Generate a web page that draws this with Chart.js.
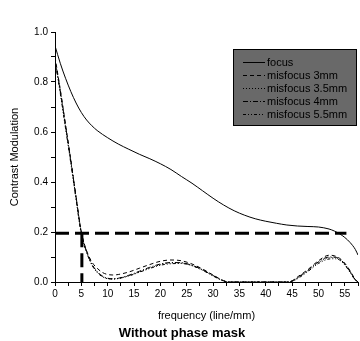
<!DOCTYPE html>
<html>
<head>
<meta charset="UTF-8">
<title>Without phase mask</title>
<script src="https://cdn.jsdelivr.net/npm/chart.js@4.4.1/dist/chart.umd.min.js"></script>
<style>
body { margin: 0; background: #fff; }
</style>
</head>
<body>
<canvas id="mtf" width="360" height="341"></canvas>
<script>
// focus curve
var focusFreq = [0, 1, 2, 3, 4, 5, 6, 7, 8, 10, 12, 14, 16, 18, 20, 22, 24, 26, 28, 30, 32, 34, 36, 38, 40, 42, 44, 46, 48, 50, 52, 53, 54, 55, 56, 57, 57.5];
var focus = [0.945, 0.875, 0.815, 0.762, 0.716, 0.678, 0.648, 0.625, 0.606, 0.577, 0.552, 0.531, 0.511, 0.493, 0.473, 0.45, 0.422, 0.395, 0.365, 0.335, 0.308, 0.285, 0.267, 0.253, 0.243, 0.235, 0.228, 0.224, 0.222, 0.22, 0.212, 0.204, 0.193, 0.178, 0.158, 0.13, 0.108];

// misfocus curves share one frequency list
var misFreq = [0, 1, 2, 3, 4, 5, 6, 7, 8, 9, 10, 11, 12, 14, 16, 18, 20, 22, 24, 26, 28, 30, 32, 33, 36, 40, 44, 45, 46, 48, 50, 52, 53, 54, 55, 56, 57, 57.5];
var mis3 = [0.90, 0.77, 0.63, 0.49, 0.34, 0.20, 0.125, 0.08, 0.055, 0.038, 0.03, 0.028, 0.03, 0.04, 0.055, 0.07, 0.083, 0.088, 0.085, 0.072, 0.052, 0.028, 0.005, 0, 0, 0, 0, 0.005, 0.02, 0.05, 0.085, 0.107, 0.105, 0.095, 0.075, 0.045, 0.01, 0];
var mis35 = [0.89, 0.76, 0.62, 0.48, 0.335, 0.195, 0.12, 0.07, 0.04, 0.022, 0.014, 0.012, 0.014, 0.025, 0.04, 0.056, 0.069, 0.076, 0.076, 0.066, 0.048, 0.025, 0.004, 0, 0, 0, 0, 0.003, 0.015, 0.045, 0.078, 0.097, 0.098, 0.09, 0.07, 0.04, 0.008, 0];
var mis4 = [0.89, 0.765, 0.625, 0.485, 0.34, 0.198, 0.122, 0.072, 0.042, 0.024, 0.015, 0.013, 0.015, 0.027, 0.043, 0.059, 0.072, 0.078, 0.077, 0.067, 0.049, 0.026, 0.005, 0, 0, 0, 0, 0.004, 0.017, 0.047, 0.081, 0.1, 0.1, 0.092, 0.072, 0.042, 0.009, 0];
var mis55 = [0.885, 0.755, 0.615, 0.475, 0.33, 0.19, 0.118, 0.068, 0.038, 0.021, 0.013, 0.012, 0.014, 0.024, 0.039, 0.054, 0.067, 0.073, 0.074, 0.065, 0.047, 0.024, 0.004, 0, 0, 0, 0, 0.002, 0.013, 0.042, 0.074, 0.092, 0.093, 0.088, 0.068, 0.038, 0.007, 0];

// thick dashed guide at 0.195
var guideLevel = 0.195;
var guideFreq = 5.1;
var guideEnd = 55.3;

var xTicksEvery = 2.5;
var yTicksEvery = 0.1;

function pts(xs, ys) {
  return xs.map(function (x, i) { return { x: x, y: ys[i] }; });
}

function curve(label, xs, ys, dash) {
  return {
    label: label,
    data: pts(xs, ys),
    borderColor: '#000',
    borderWidth: 1,
    borderDash: dash,
    pointRadius: 0,
    cubicInterpolationMode: 'monotone',
    fill: false
  };
}

var legendBox = {
  id: 'legendBox',
  afterDatasetsDraw: function (chart) {
    var ctx = chart.ctx;
    ctx.save();
    ctx.fillStyle = '#696969';
    ctx.fillRect(233.5, 49.5, 123, 76);
    ctx.strokeStyle = '#000';
    ctx.lineWidth = 1;
    ctx.strokeRect(233.5, 49.5, 123, 76);
    ctx.font = '11px "Liberation Sans", Arial, sans-serif';
    ctx.textBaseline = 'middle';
    ctx.fillStyle = '#000';
    chart.data.datasets.slice(0, 5).forEach(function (ds, i) {
      var y = 62.5 + i * 13;
      ctx.setLineDash(ds.borderDash || []);
      ctx.beginPath();
      ctx.moveTo(243, y);
      ctx.lineTo(265, y);
      ctx.stroke();
      ctx.setLineDash([]);
      ctx.fillText(ds.label, 267, y + 0.5);
    });
    ctx.restore();
  }
};

var tickFont = { family: '"Liberation Sans", Arial, sans-serif', size: 10 };

new Chart(document.getElementById('mtf'), {
  type: 'line',
  data: {
    datasets: [
      curve('focus', focusFreq, focus, []),
      curve('misfocus 3mm', misFreq, mis3, [4, 3]),
      curve('misfocus 3.5mm', misFreq, mis35, [1, 2]),
      curve('misfocus 4mm', misFreq, mis4, [5, 2, 1, 2]),
      curve('misfocus 5.5mm', misFreq, mis55, [3, 2, 1, 2, 1, 2]),
      {
        label: 'guide h',
        data: pts([0, guideEnd], [guideLevel, guideLevel]),
        borderColor: '#000', borderWidth: 3, borderDash: [14, 6], pointRadius: 0
      },
      {
        label: 'guide v',
        data: pts([guideFreq, guideFreq], [guideLevel, 0]),
        borderColor: '#000', borderWidth: 3, borderDash: [14, 6], pointRadius: 0
      }
    ]
  },
  options: {
    responsive: false,
    devicePixelRatio: 1,
    animation: false,
    layout: { padding: { left: 4, top: 32, right: 0, bottom: 0 } },
    plugins: {
      legend: { display: false },
      tooltip: { enabled: false },
      title: {
        display: true,
        position: 'bottom',
        text: 'Without phase mask',
        color: '#000',
        font: { family: '"Liberation Sans", Arial, sans-serif', size: 13, weight: 'bold' },
        padding: { top: 5, bottom: 0 }
      }
    },
    scales: {
      x: {
        type: 'linear',
        min: 0,
        max: 57.5,
        afterFit: function (s) { s.height = 38.4; },
        border: { display: true, color: '#000', width: 1 },
        grid: { drawOnChartArea: false, drawTicks: true, tickLength: 4, tickColor: '#000' },
        ticks: {
          stepSize: xTicksEvery,
          autoSkip: false,
          maxRotation: 0,
          padding: 2,
          color: '#000',
          font: tickFont,
          callback: function (v) { return v % 5 === 0 ? String(v) : ''; }
        },
        title: {
          display: true,
          text: 'frequency (line/mm)',
          color: '#000',
          font: { family: '"Liberation Sans", Arial, sans-serif', size: 11 },
          padding: { top: 0, bottom: -2 }
        }
      },
      y: {
        min: 0,
        max: 1,
        afterFit: function (s) { s.width = 51; },
        border: { display: true, color: '#000', width: 1 },
        grid: { drawOnChartArea: false, drawTicks: true, tickLength: 4, tickColor: '#000' },
        ticks: {
          stepSize: yTicksEvery,
          autoSkip: false,
          padding: 3,
          color: '#000',
          font: tickFont,
          callback: function (v) { return Math.round(v * 10) % 2 === 0 ? v.toFixed(1) : ''; }
        },
        title: {
          display: true,
          text: 'Contrast Modulation',
          color: '#000',
          font: { family: '"Liberation Sans", Arial, sans-serif', size: 11 },
          padding: { top: 4, bottom: 4 }
        }
      }
    }
  },
  plugins: [legendBox]
});
</script>
</body>
</html>
